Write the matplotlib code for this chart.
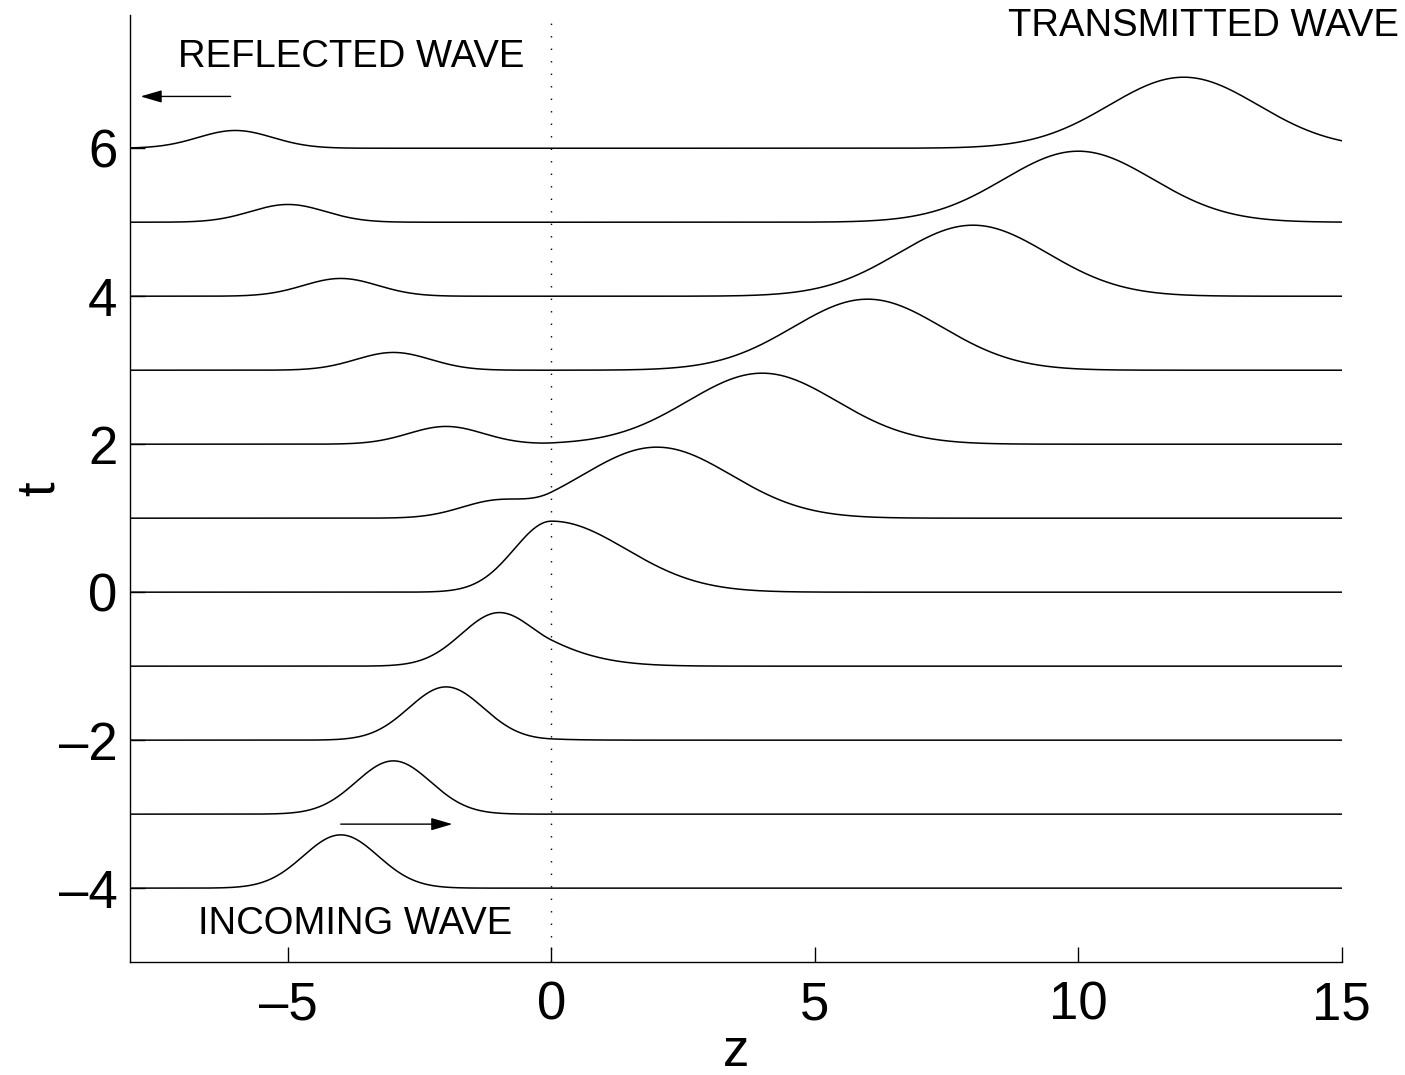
import numpy as np
import matplotlib
matplotlib.use("Agg")
import matplotlib.pyplot as plt

plt.rcParams['font.family'] = ['Liberation Sans', 'DejaVu Sans']

# Time levels, each drawn as a trace offset vertically by its own t
times = [-4, -3, -2, -1, 0, 1, 2, 3, 4, 5, 6]

# Pulse heights
incoming_amp = 0.72      # pulse travelling right in z < 0 (speed 1)
reflected_amp = 0.24     # pulse travelling left in z < 0 (speed 1)
transmitted_amp = 0.96   # pulse travelling right in z > 0 (speed 2)
speed_left = 1.0
speed_right = 2.0

# Axis ticks
xticks = [-5, 0, 5, 10, 15]
yticks = [-4, -2, 0, 2, 4, 6]

z = np.linspace(-8, 15, 2000)


def trace(t):
    left = (incoming_amp * np.exp(-((z - speed_left * t) / speed_left) ** 2)
            + reflected_amp * np.exp(-((z + speed_left * t) / speed_left) ** 2))
    right = transmitted_amp * np.exp(-((z - speed_right * t) / speed_right) ** 2)
    return t + np.where(z < 0, left, right)


fig = plt.figure(figsize=(14.05, 10.75), dpi=100)
ax = fig.add_axes([0.0925, 0.105, 0.8625, 0.881])

for t in times:
    ax.plot(z, trace(t), color='black', lw=1.1)

ax.axvline(0, color='black', lw=1.0, linestyle=(0, (1, 8)))

ax.set_xlim(-8, 15)
ax.set_ylim(-5, 7.8)
ax.set_xticks(xticks)
ax.set_yticks(yticks)
ax.set_xticklabels([str(v).replace('-', '\u2013') for v in xticks])
ax.set_yticklabels([str(v).replace('-', '\u2013') for v in yticks])
ax.tick_params(direction='in', length=11, width=1.0, labelsize=38)
ax.tick_params(axis='x', pad=13)
ax.tick_params(axis='y', pad=9)
ax.spines['top'].set_visible(False)
ax.spines['right'].set_visible(False)
for s in ('left', 'bottom'):
    ax.spines[s].set_linewidth(1.0)

ax.set_xlabel('z', fontsize=38, labelpad=-2)
ax.set_ylabel('t', fontsize=38, labelpad=-4)

# Annotations
arrow = dict(arrowstyle='-|>,head_length=1.3,head_width=0.38', color='black', lw=1.0,
             shrinkA=0, shrinkB=0)
ax.annotate('', xy=(-7.8, 6.70), xytext=(-6.09, 6.70), arrowprops=arrow)
ax.annotate('', xy=(15.07, 7.15), xytext=(11.99, 7.15), arrowprops=arrow)
ax.annotate('', xy=(-1.88, -3.135), xytext=(-4.0, -3.135), arrowprops=arrow)

ax.text(-3.81, 7.23, 'REFLECTED WAVE', fontsize=27.5, ha='center', va='center')
ax.text(12.37, 7.65, 'TRANSMITTED WAVE', fontsize=27.5, ha='center', va='center')
ax.text(-3.72, -4.49, 'INCOMING WAVE', fontsize=27.5, ha='center', va='center')

fig.savefig('out.png', dpi=100)
